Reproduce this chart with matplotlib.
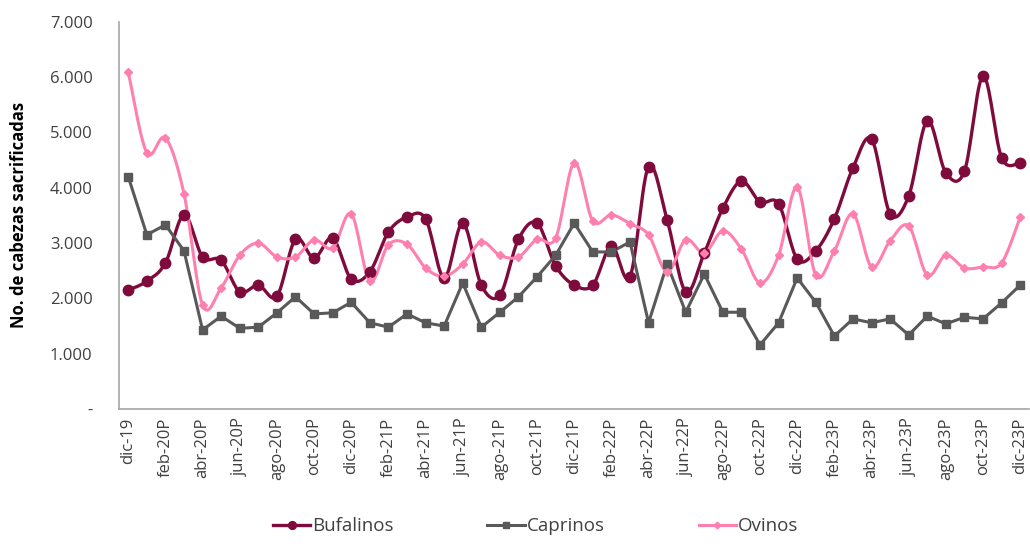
import numpy as np
import matplotlib
matplotlib.use("Agg")
import matplotlib.pyplot as plt
from matplotlib.ticker import FuncFormatter

plt.rcParams["font.family"] = ["Open Sans", "DejaVu Sans"]

MONTHS = ["ene", "feb", "mar", "abr", "may", "jun", "jul", "ago", "sep", "oct", "nov", "dic"]
labels = ["dic-19"] + [f"{m}-{y}P" for y in (20, 21, 22, 23) for m in MONTHS]

bufalinos = [2150, 2310, 2640, 3510, 2750, 2690, 2120, 2240, 2040, 3070, 2730, 3090,
             2350, 2480, 3200, 3470, 3440, 2370, 3360, 2240, 2060, 3070, 3360, 2590,
             2240, 2240, 2950, 2390, 4380, 3420, 2120, 2820, 3630, 4120, 3740, 3710,
             2710, 2860, 3440, 4360, 4880, 3530, 3850, 5210, 4270, 4300, 6020, 4540, 4450]
caprinos = [4200, 3150, 3330, 2860, 1430, 1680, 1460, 1480, 1740, 2030, 1720, 1740,
            1930, 1560, 1480, 1720, 1560, 1500, 2280, 1480, 1750, 2030, 2390, 2780,
            3360, 2840, 2840, 3020, 1560, 2620, 1750, 2440, 1750, 1750, 1160, 1560,
            2370, 1930, 1320, 1630, 1560, 1630, 1340, 1680, 1540, 1660, 1630, 1920, 2240]
ovinos = [6090, 4630, 4900, 3890, 1880, 2190, 2780, 3000, 2750, 2750, 3060, 2910,
          3530, 2310, 2970, 2980, 2550, 2400, 2620, 3020, 2780, 2750, 3070, 3090,
          4450, 3400, 3510, 3350, 3150, 2480, 3060, 2820, 3220, 2890, 2280, 2780,
          4010, 2420, 2860, 3530, 2570, 3040, 3310, 2420, 2780, 2550, 2570, 2640, 3470]

# name, values, colour, marker, marker size, line width, smoothed line
SERIES = [
    ("Bufalinos", bufalinos, "#7F0A3C", "o", 7.5, 2.4, True),
    ("Caprinos", caprinos, "#595959", "s", 5.5, 2.2, False),
    ("Ovinos", ovinos, "#FF80AF", "D", 4.5, 2.2, True),
]


def smooth(y, n=16):
    # Excel-style smoothed line: cubic Bezier with Catmull-Rom control points
    y = np.asarray(y, dtype=float)
    x = np.arange(len(y), dtype=float)
    px = np.concatenate([[x[0]], x, [x[-1]]])
    py = np.concatenate([[y[0]], y, [y[-1]]])
    xs, ys = [], []
    t = np.linspace(0, 1, n, endpoint=False)
    for i in range(len(y) - 1):
        p0 = np.array([px[i + 1], py[i + 1]])
        p3 = np.array([px[i + 2], py[i + 2]])
        c1 = p0 + (np.array([px[i + 2], py[i + 2]]) - np.array([px[i], py[i]])) / 6
        c2 = p3 - (np.array([px[i + 3], py[i + 3]]) - np.array([px[i + 1], py[i + 1]])) / 6
        b = ((1 - t) ** 3)[:, None] * p0 + (3 * (1 - t) ** 2 * t)[:, None] * c1 \
            + (3 * (1 - t) * t ** 2)[:, None] * c2 + (t ** 3)[:, None] * p3
        xs.append(b[:, 0])
        ys.append(b[:, 1])
    xs.append([x[-1]])
    ys.append([y[-1]])
    return np.concatenate(xs), np.concatenate(ys)


fig = plt.figure(figsize=(10.3, 5.44), dpi=100)
ax = fig.add_axes([0.1155, 0.248, 0.884, 0.712])

x = np.arange(len(labels))
handles = []
for name, vals, color, marker, ms, lw, smoothed in SERIES:
    sx, sy = smooth(vals) if smoothed else (x, vals)
    ax.plot(sx, sy, color=color, lw=lw, solid_capstyle="round", zorder=2)
    ax.plot(x, vals, ls="none", marker=marker, ms=ms, color=color, zorder=3)
    h, = ax.plot([], [], color=color, lw=lw, marker=marker, ms=ms * 0.75, label=name)
    handles.append(h)

ax.set_xlim(-0.5, len(labels) - 0.5)
ax.set_ylim(0, 7000)
ax.set_yticks(range(0, 7001, 1000))
ax.yaxis.set_major_formatter(FuncFormatter(
    lambda v, _: "-" if v == 0 else f"{v:,.0f}".replace(",", ".")))
ax.set_xticks(x[::2])
ax.set_xticklabels(labels[::2], rotation=90)
ax.tick_params(axis="both", length=0, labelsize=12, labelcolor="#404040")
ax.tick_params(axis="x", pad=6)
ax.tick_params(axis="y", pad=19)
for spine in ("top", "right"):
    ax.spines[spine].set_visible(False)
for spine in ("left", "bottom"):
    ax.spines[spine].set_color("#A6A6A6")
    ax.spines[spine].set_linewidth(1.2)

ax.set_ylabel("No. de cabezas sacrificadas", fontsize=12, fontweight="bold")
ax.yaxis.set_label_coords(-0.100, 0.5)

fig.legend(handles=handles, loc="lower center", bbox_to_anchor=(0.52, -0.015), ncol=3,
           frameon=False, fontsize=13.5, handlelength=2.0, handletextpad=0.1,
           columnspacing=5.0, labelcolor="#404040")

fig.savefig("out.png", dpi=100)
